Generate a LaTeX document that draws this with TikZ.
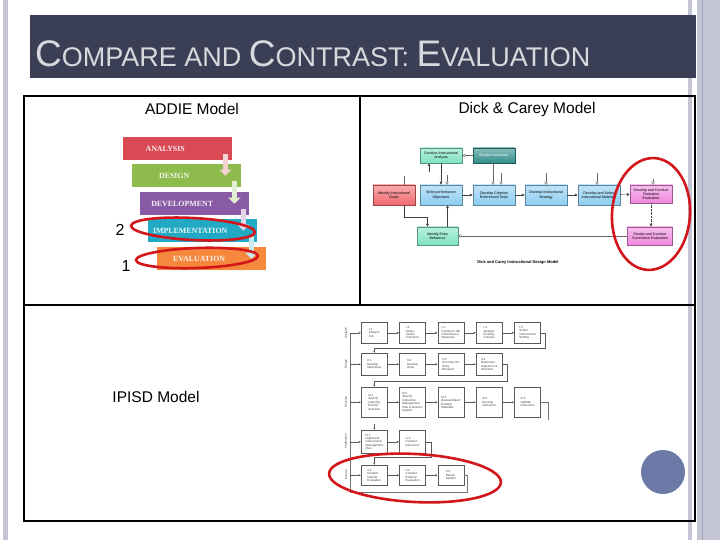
\documentclass[tikz,border=0pt]{standalone}
\usepackage{fontspec}
\setmainfont{Liberation Sans}
\newfontfamily\addieserif{Liberation Serif}
\usetikzlibrary{arrows.meta,calc,positioning}
\definecolor{TitleBar}{HTML}{3B3F56}
\definecolor{TitleInk}{HTML}{D8D8DD}
\definecolor{EdgeStrip}{HTML}{C3C5D4}
\definecolor{EdgeLine}{HTML}{9FA4BF}
\definecolor{MarkRed}{HTML}{D2161B}
\definecolor{AddieA}{HTML}{D94A55}
\definecolor{AddieD}{HTML}{8DBB4C}
\definecolor{AddieV}{HTML}{8A5BA5}
\definecolor{AddieI}{HTML}{22AAC4}
\definecolor{AddieE}{HTML}{F5883C}
\definecolor{DCRed}{HTML}{F0696E}
\definecolor{DCGreen}{HTML}{80E3C0}
\definecolor{DCTeal}{HTML}{2F8C88}
\definecolor{DCBlue}{HTML}{8CCDF2}
\definecolor{DCPink}{HTML}{EE88DD}
\definecolor{Knob}{HTML}{6D7AA8}
\newcommand{\titlebig}[1]{{\fontsize{37}{40}\selectfont #1}}
\newcommand{\titlesmall}[1]{{\fontsize{27}{30}\selectfont #1}}
\tikzset{
  head/.style={font=\fontsize{15.5}{18}\selectfont, inner sep=0pt},
  num/.style={font=\fontsize{16}{18}\selectfont, inner sep=0pt},
  redmark/.style={draw=MarkRed, line width=2.6pt},
  addiebox/.style={fill=#1, minimum width=109, minimum height=23, inner sep=0pt,
             anchor=north west, text=white!90!#1,
             font=\addieserif\bfseries\fontsize{7.9}{9}\selectfont,
             execute at end node={\hspace*{25pt}}},
  addiestep/.style={-{Triangle[width=12pt,length=6pt]}, line width=5pt, draw=#1!25!white},
  dcbox/.style={draw=#1!65!black, line width=0.4pt, top color=#1!55!white, bottom color=#1,
             minimum width=42, minimum height=20,
             inner sep=0.5pt, align=center, font=\fontsize{3.6}{4.2}\selectfont},
  dcflow/.style={-{Latex[length=3pt,width=3pt]}, line width=0.4pt, draw=black!75},
  dcfeed/.style={-{Triangle[open,length=3pt,width=3.5pt]}, line width=0.4pt, draw=black!60},
  ipbox/.style={draw=black!65, line width=0.6pt, fill=white, minimum width=26, anchor=north west,
             inner sep=1pt, align=left, text=black!75, font=\fontsize{3}{3.4}\selectfont},
  iparrow/.style={-{Latex[length=2.2pt,width=2.2pt]}, line width=0.4pt, draw=black!65},
  ipline/.style={line width=0.5pt, draw=black!55},
  phase/.style={rotate=90, font=\fontsize{3}{3.4}\selectfont, inner sep=0pt, text=black!75},
}
\begin{document}
\begin{tikzpicture}[x=1pt, y=-1pt]
\useasboundingbox (0,0) rectangle (720,540);
\fill[white] (0,0) rectangle (720,540);
% ---------- slide edges and title bar
\fill[EdgeStrip] (3,0) rectangle (8,540);
\fill[EdgeStrip] (688,0) rectangle (692,540);
\fill[EdgeStrip] (697,0) rectangle (720,540);
\draw[EdgeLine, line width=1.2pt] (702.5,0) -- (702.5,540);
\fill[TitleBar] (30,15) rectangle (696,78);
\node[anchor=base west, text=TitleInk, inner sep=0pt] (title) at (35,67)
  {\titlebig{C}\titlesmall{OMPARE AND }\titlebig{C}\titlesmall{ONTRAST: }\titlebig{E}\titlesmall{VALUATION}};
% ---------- table
\draw[line width=2pt] (24,96) rectangle (695,521);
\draw[line width=2pt] (24,305) -- (695,305);
\draw[line width=2pt] (360,96) -- (360,305);
\node[head] (addiehead) at (192,109) {ADDIE Model};
\node[head] (dchead) at (527,109) {Dick \& Carey Model};
\node[head] (ipisdhead) at (156,397) {IPISD Model};
% ---------- ADDIE staircase
\node[addiebox=AddieA] (analysis) at (123,137) {ANALYSIS};
\node[addiebox=AddieD] (design) at (132,164) {DESIGN};
\node[addiebox=AddieV] (development) at (140,192) {DEVELOPMENT};
\node[addiebox=AddieI] (implementation) at (148,219) {IMPLEMENTATION};
\node[addiebox=AddieE] (evaluation) at (157,247) {EVALUATION};
\draw[addiestep=AddieA] ([xshift=-7pt,yshift=6pt]analysis.south east) -- ([xshift=-7pt]analysis.south east |- design.center);
\draw[addiestep=AddieD] ([xshift=-7pt,yshift=6pt]design.south east) -- ([xshift=-7pt]design.south east |- development.center);
\draw[addiestep=AddieV] ([xshift=-6pt,yshift=6pt]development.south east) -- ([xshift=-6pt]development.south east |- implementation.center);
\draw[addiestep=AddieI] ([xshift=-6pt,yshift=6pt]implementation.south east) -- ([xshift=-6pt]implementation.south east |- evaluation.center);
\draw[redmark, rotate around={-3:(193,229)}] (193,229) ellipse [x radius=62, y radius=11];
\draw[redmark, rotate around={2:(197,258)}] (197,258) ellipse [x radius=61, y radius=10];
\node[num] (mark2) at (120,230) {2};
\node[num] (mark1) at (126,266) {1};
% ---------- Dick and Carey model
\node[dcbox=DCGreen, minimum height=15] (instanalysis) at (441,155.5) {Conduct Instructional\\Analysis};
\node[dcbox=DCTeal, minimum height=15, text=white] (revise) at (494,155.5) {Revise Instruction};
\node[dcbox=DCRed] (goals) at (394,195) {Identify Instructional\\Goals};
\node[dcbox=DCBlue] (objectives) at (441,195) {Write performance\\Objectives};
\node[dcbox=DCBlue] (tests) at (494,195) {Develop Criterion\\Referenced Tests};
\node[dcbox=DCBlue] (strategy) at (546,195) {Develop Instructional\\Strategy};
\node[dcbox=DCBlue] (materials) at (599,195) {Develop and Select\\Instructional Materials};
\node[dcbox=DCPink, minimum height=18] (formative) at (651,194) {Develop and Conduct\\Formative\\Evaluation};
\node[dcbox=DCGreen, minimum width=41, minimum height=18] (entry) at (437.5,236) {Identify Entry\\Behaviors};
\node[dcbox=DCPink, minimum width=45, minimum height=18] (summative) at (650,236) {Design and Conduct\\Summative Evaluation};
\node[font=\bfseries\fontsize{4}{5}\selectfont, inner sep=0pt] (dccaption) at (518,262) {Dick and Carey Instructional Design Model};
\draw[dcflow] (objectives) -- (tests);
\draw[dcflow] (tests) -- (strategy);
\draw[dcflow] (strategy) -- (materials);
\draw[dcflow] (materials) -- (formative);
\draw[dcflow] (instanalysis.south) -- (objectives.north);
\draw[dcfeed] (revise.west) -- (instanalysis.east);
\draw[dcfeed] ([xshift=-1pt]revise.south) -- ([xshift=-1pt]tests.north);
\draw[dcfeed] ([xshift=7pt,yshift=12pt]tests.north) -- ([xshift=7pt]tests.north);
\draw[dcfeed] ([xshift=6pt,yshift=10pt]objectives.north) -- ([xshift=6pt]objectives.north);
\draw[dcfeed] ([yshift=12pt]strategy.north) -- (strategy.north);
\draw[dcfeed] ([xshift=-2pt,yshift=12pt]materials.north) -- ([xshift=-2pt]materials.north);
\draw[dcfeed] ([xshift=2pt,yshift=6pt]formative.north) -- ([xshift=2pt]formative.north);
\draw[line width=0.4pt, draw=black!60] ([xshift=10pt]goals.north) -- ([xshift=10pt,yshift=9pt]goals.north);
\draw[dcflow] ([xshift=-12pt,yshift=-9pt]instanalysis.south) -- ([xshift=-12pt]instanalysis.south);
\draw[dcflow] ([xshift=10pt]goals.south) -- ++(0,12) -| ([xshift=-10pt]entry.north);
\draw[dcflow] ([xshift=10pt]entry.north) -- ([xshift=10pt]entry.north |- objectives.south);
\draw[dcflow, densely dotted] (formative.south) -- (formative.south |- summative.north);
\draw[dcfeed] (summative.west) -- (entry.east);
\draw[redmark, rotate around={-4:(651,214)}] (651,214) ellipse [x radius=39, y radius=56];
% ---------- IPISD model
\foreach \n/\txt [count=\k from 0] in {i1/{I.1\\Analyze\\Job}, i2/{I.2\\Select\\Tasks/\\Functions},
    i3/{I.3\\Construct Job\\Performance\\Measures}, i4/{I.4\\Analyze\\Existing\\Courses},
    i5/{I.5\\Select\\Instructional\\Setting}}
  \node[ipbox, minimum height=21] (\n) at ({361+38.3*\k},322) {\txt};
\foreach \n/\txt [count=\k from 0] in {ii1/{II.1\\Develop\\Objectives}, ii2/{II.2\\Develop\\Tests},
    ii3/{II.3\\Describe the\\Entry\\Behavior}, ii4/{II.4\\Determine\\Sequence \&\\Structure}}
  \node[ipbox, minimum height=22] (\n) at ({361+38.3*\k},353) {\txt};
\foreach \n/\txt [count=\k from 0] in {iii1/{III.1\\Specify\\Learning\\Events/\\Activities},
    iii2/{III.2\\Specify\\Instruction\\Management\\Plan \& Delivery\\System},
    iii3/{III.3\\Review/Select\\Existing\\Materials}, iii4/{III.4\\Develop\\Instruction},
    iii5/{III.5\\Validate\\Instruction}}
  \node[ipbox, minimum height=30] (\n) at ({361+38.3*\k},387) {\txt};
\foreach \n/\txt [count=\k from 0] in {iv1/{IV.1\\Implement\\Instructional\\Management\\Plan},
    iv2/{IV.2\\Conduct\\Instruction}}
  \node[ipbox, minimum height=23] (\n) at ({361+38.3*\k},430) {\txt};
\foreach \n/\txt [count=\k from 0] in {v1/{V.1\\Conduct\\Internal\\Evaluation},
    v2/{V.2\\Conduct\\External\\Evaluation}, v3/{V.3\\Revise\\System}}
  \node[ipbox, minimum height=20] (\n) at ({361+38.3*\k},465) {\txt};
\node[phase] (phanalyze) at (346,333) {Analyze};
\node[phase] (phdesign) at (346,364) {Design};
\node[phase] (phdevelop) at (346,402) {Develop};
\node[phase] (phimplement) at (346,441) {Implement};
\node[phase] (phcontrol) at (346,475) {Control};
\foreach \a/\b in {i1/i2,i2/i3,i3/i4,i4/i5,ii1/ii2,ii2/ii3,ii3/ii4,
    iii1/iii2,iii2/iii3,iii3/iii4,iii4/iii5,iv1/iv2,v1/v2,v2/v3}
  \draw[iparrow] (\a) -- (\b);
\draw[iparrow] (i5.east) -- ++(4,0) |- ([yshift=5pt]ii1.north) -- (ii1.north);
\draw[iparrow] (ii4.east) -- ++(5,0) |- ([yshift=6pt]iii1.north) -- (iii1.north);
\draw[ipline] (iii5.east) -- ++(7,0) -- ++(0,18);
\draw[iparrow] ([yshift=6pt]iv1.north) -- (iv1.north);
\draw[iparrow] (iv2.east) -- ++(5,0) |- ([yshift=8pt]v1.north) -- (v1.north);
\coordinate (spinefoot) at (350,492);
\coordinate (spinehead) at (350,332.5);
\draw[ipline] (v3.east) -- ++(3,0) |- (spinefoot) -- (spinehead);
\foreach \n in {i1,ii1,iii1,iv1,v1}
  \draw[iparrow] (spinehead |- \n.west) -- (\n.west);
\draw[redmark, rotate around={-3:(415,478)}] (415,478) ellipse [x radius=86, y radius=24];
% ---------- slide knob
\fill[Knob] (663,472) circle [radius=22];
\end{tikzpicture}
\end{document}
